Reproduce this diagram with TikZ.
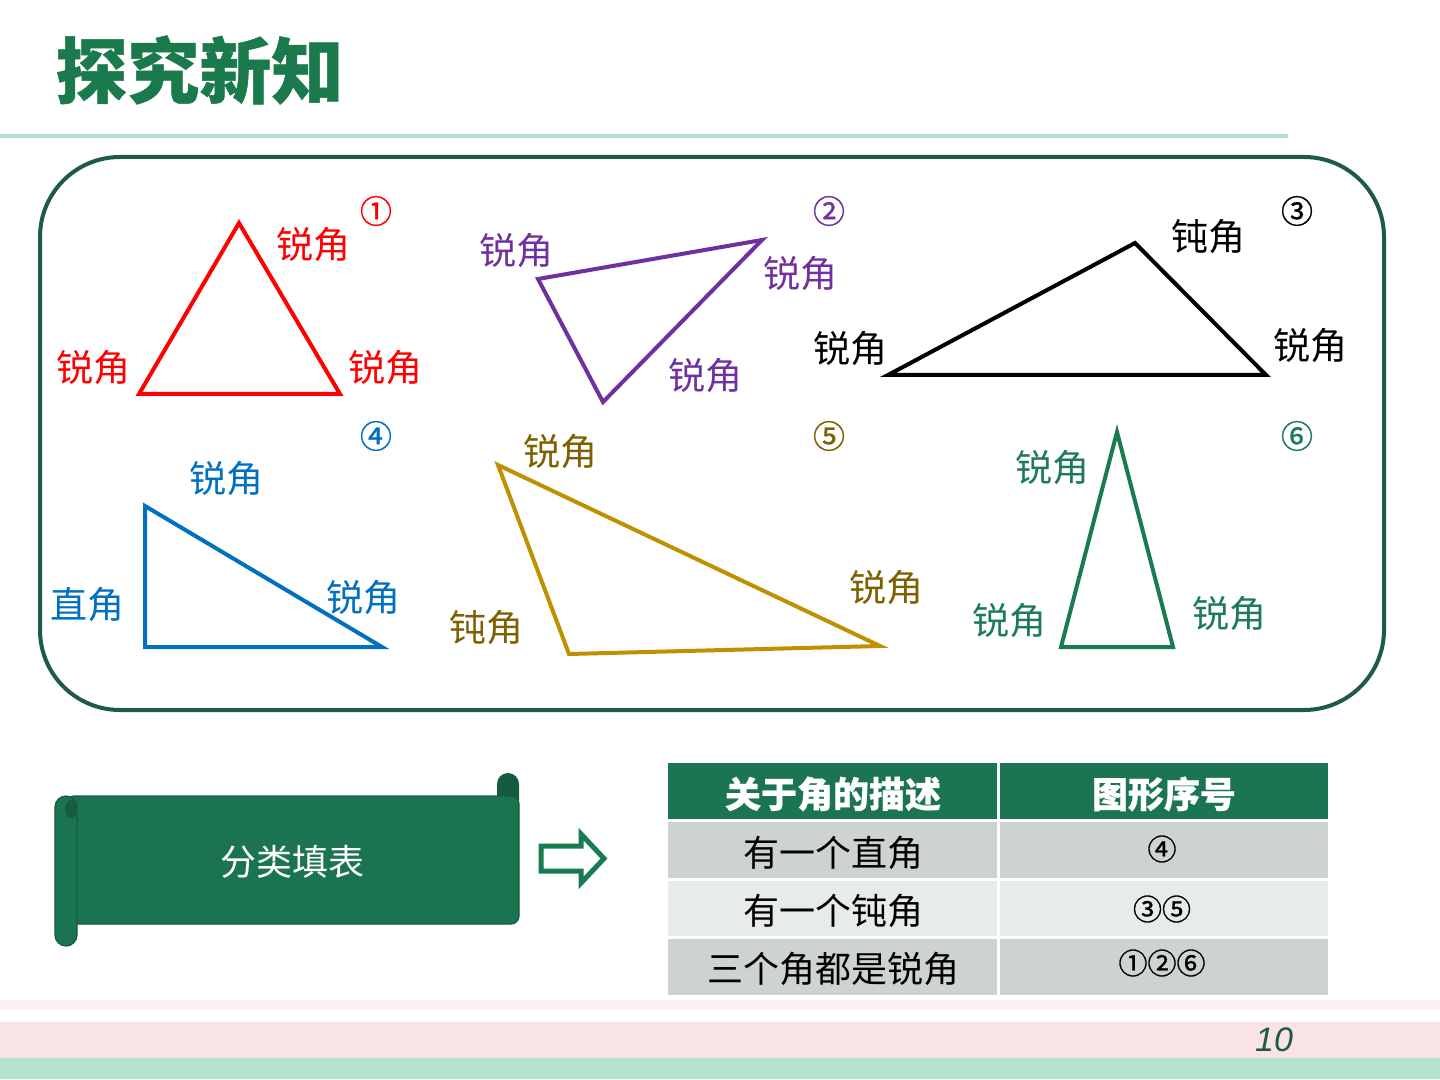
\documentclass[tikz,border=0pt]{standalone}
\usepackage{fontspec}
\setmainfont{Noto Sans CJK SC}[BoldFeatures={FakeBold=0.6}]
\newfontfamily\titlefont{Noto Sans CJK SC}[BoldFeatures={FakeBold=0.7}]
\newfontfamily\numfont{Liberation Sans}
\newfontfamily\circfont{Noto Sans CJK SC}[FakeBold=1.0]
\definecolor{titlegreen}{HTML}{1A7A4C}
\definecolor{lightline}{HTML}{B3E0CC}
\definecolor{boxgreen}{HTML}{1E5C40}
\definecolor{scrollg}{HTML}{1A7450}
\definecolor{scrolld}{HTML}{145C3D}
\definecolor{hdr}{HTML}{1A7550}
\definecolor{grayA}{HTML}{CDD4D0}
\definecolor{grayB}{HTML}{E8ECE9}
\definecolor{tpurple}{HTML}{7030A0}
\definecolor{tblue}{HTML}{0070C0}
\definecolor{tgold}{HTML}{BF9000}
\definecolor{tgoldtext}{HTML}{7F6000}
\definecolor{tgreen}{HTML}{1A7A50}
\definecolor{tgreentext}{HTML}{1E7B58}
\definecolor{pinkA}{HTML}{FDF1F1}
\definecolor{pinkB}{HTML}{F9E3E4}
\definecolor{greenB}{HTML}{B5E3CE}
\definecolor{pagenum}{HTML}{1E5C40}
\tikzset{
  lbl/.style={inner sep=0pt, font=\fontsize{18.5}{22}\selectfont},
  num/.style={inner sep=0pt, font=\fontsize{16}{18}\selectfont\circfont},
  tnum/.style={inner sep=0pt, font=\fontsize{14.5}{16}\selectfont\circfont},
  tri/.style={line width=2pt, line join=miter},
  cell/.style={inner sep=0pt, font=\fontsize{18}{22}\selectfont},
  hcell/.style={inner sep=0pt, text=white, font=\fontsize{18}{22}\selectfont\bfseries},
}
\begin{document}
\begin{tikzpicture}[x=0.5pt,y=-0.5pt]
\useasboundingbox (0,0) rectangle (1440,1080);
\fill[white] (0,0) rectangle (1440,1080);
% title
\node[anchor=west, inner sep=0pt, text=titlegreen, font=\fontsize{36}{40}\selectfont\titlefont\bfseries] (title) at (55,70) {探究新知};
\draw[lightline, line width=2pt] (0,136) -- (1288,136);
% rounded frame
\draw[boxgreen, line width=2pt, rounded corners=40pt] (40,157) rectangle (1384,710);
% triangle 1
\coordinate (a1) at (239,223); \coordinate (b1) at (139,394); \coordinate (c1) at (340,394);
\draw[tri, red] (a1) -- (b1) -- (c1) -- cycle;
\node[lbl, text=red] (l1a) at (313,245) {锐角};
\node[lbl, text=red] (l1b) at (93,368) {锐角};
\node[lbl, text=red] (l1c) at (385,368) {锐角};
\node[num, text=red] (n1) at (376,211) {①};
% triangle 2
\coordinate (a2) at (538,279); \coordinate (b2) at (762,240); \coordinate (c2) at (603,402);
\draw[tri, tpurple] (a2) -- (b2) -- (c2) -- cycle;
\node[lbl, text=tpurple] (l2a) at (516,251) {锐角};
\node[lbl, text=tpurple] (l2b) at (800,274) {锐角};
\node[lbl, text=tpurple] (l2c) at (705,376) {锐角};
\node[num, text=tpurple] (n2) at (829,211) {②};
% triangle 3
\coordinate (a3) at (888,375); \coordinate (b3) at (1135,243); \coordinate (c3) at (1266,375);
\draw[tri, black] (a3) -- (b3) -- (c3) -- cycle;
\node[lbl] (l3a) at (1208,237) {钝角};
\node[lbl] (l3b) at (850,349) {锐角};
\node[lbl] (l3c) at (1310,346) {锐角};
\node[num] (n3) at (1297,211) {③};
% triangle 4
\coordinate (a4) at (145,506); \coordinate (b4) at (145,647); \coordinate (c4) at (382,647);
\draw[tri, tblue] (a4) -- (b4) -- (c4) -- cycle;
\node[lbl, text=tblue] (l4a) at (226,479) {锐角};
\node[lbl, text=tblue] (l4b) at (87,605) {直角};
\node[lbl, text=tblue] (l4c) at (363,598) {锐角};
\node[num, text=tblue] (n4) at (376,436) {④};
% triangle 5
\coordinate (a5) at (498,465); \coordinate (b5) at (569,654); \coordinate (c5) at (880,646);
\draw[tri, tgold] (a5) -- (b5) -- (c5) -- cycle;
\node[lbl, text=tgoldtext] (l5a) at (560,452) {锐角};
\node[lbl, text=tgoldtext] (l5b) at (486,628) {钝角};
\node[lbl, text=tgoldtext] (l5c) at (886,588) {锐角};
\node[num, text=tgoldtext] (n5) at (829,436) {⑤};
% triangle 6
\coordinate (a6) at (1117,432); \coordinate (b6) at (1061,647); \coordinate (c6) at (1173,647);
\draw[tri, tgreen] (a6) -- (b6) -- (c6) -- cycle;
\node[lbl, text=tgreentext] (l6a) at (1052,468) {锐角};
\node[lbl, text=tgreentext] (l6b) at (1009,621) {锐角};
\node[lbl, text=tgreentext] (l6c) at (1229,614) {锐角};
\node[num, text=tgreentext] (n6) at (1297,436) {⑥};
% scroll
\fill[scrolld] (497,800) -- (497,784) arc[start angle=180, end angle=360, radius=11] -- (519,800) -- cycle;
\fill[scrollg, draw=scrolld, line width=0.6pt, rounded corners=4pt] (66,796) -- (519,796) -- (519,924) -- (66,924) -- cycle;
\fill[scrollg, draw=scrolld, line width=0.6pt] (55,807) arc[start angle=180, end angle=360, radius=11] -- (77,935) arc[start angle=0, end angle=180, radius=11] -- cycle;
\fill[scrolld] (71,809) ellipse[x radius=6, y radius=9];
\node[inner sep=0pt, text=white, font=\fontsize{18}{22}\selectfont] (scrolltext) at (292,862) {分类填表};
% hollow arrow
\draw[tgreen, line width=2.5pt, fill=white, line join=miter] (541,846) -- (581,846) -- (581,834) -- (604,858.5) -- (581,883) -- (581,871) -- (541,871) -- cycle;
% table
\fill[hdr] (668,763) rectangle (997,819);
\fill[hdr] (1000,763) rectangle (1328,819);
\fill[grayA] (668,822) rectangle (997,878);
\fill[grayA] (1000,822) rectangle (1328,878);
\fill[grayB] (668,881) rectangle (997,936);
\fill[grayB] (1000,881) rectangle (1328,936);
\fill[grayA] (668,939) rectangle (997,995);
\fill[grayA] (1000,939) rectangle (1328,995);
\node[hcell] (h1) at (833,794) {关于角的描述};
\node[hcell] (h2) at (1164,794) {图形序号};
\node[cell] (r1a) at (833,853) {有一个直角};
\node[cell] (r2a) at (833,911) {有一个钝角};
\node[cell] (r3a) at (833,969) {三个角都是锐角};
\node[tnum] (r1b) at (1162,849) {④};
\node[tnum] (r2b) at (1162,909) {③⑤};
\node[tnum] (r3b) at (1162,963) {①②⑥};
% bottom stripes
\fill[pinkA] (0,1000) rectangle (1440,1010);
\fill[pinkB] (0,1022) rectangle (1440,1058);
\fill[greenB] (0,1058) rectangle (1440,1079);
\node[inner sep=0pt, text=pagenum, font=\fontsize{17}{20}\selectfont\numfont\itshape] (pg) at (1274,1040) {10};
\end{tikzpicture}
\end{document}
